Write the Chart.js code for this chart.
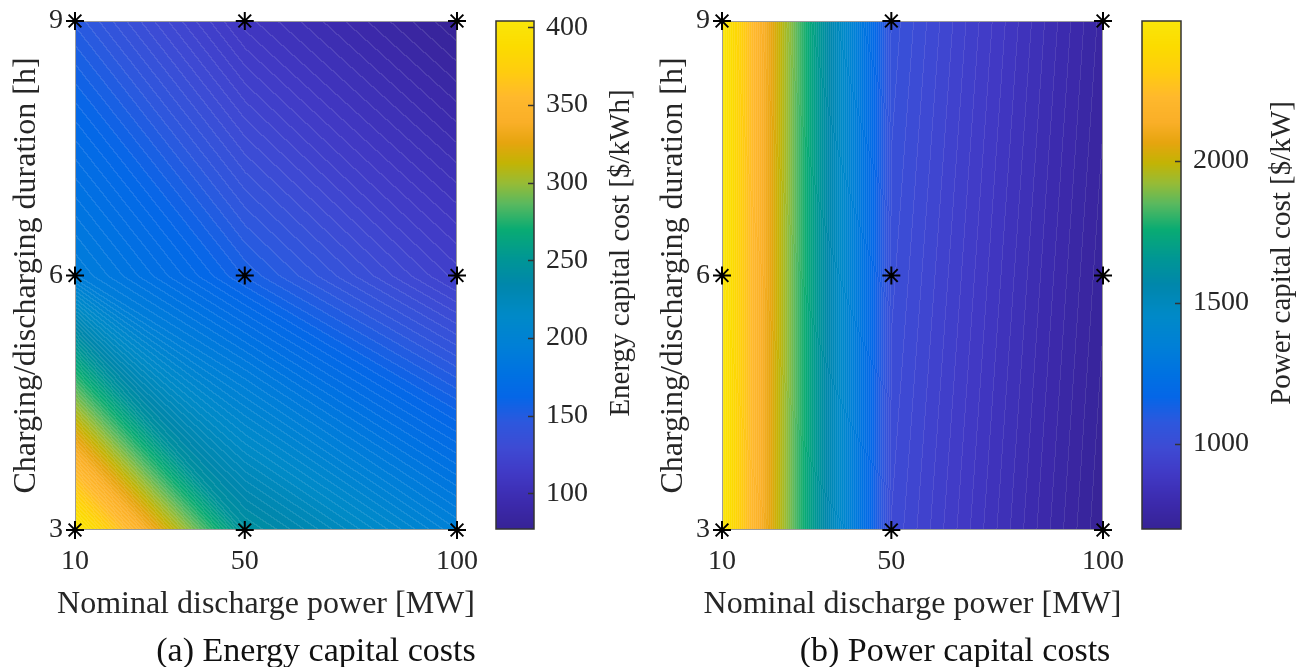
<!DOCTYPE html>
<html>
<head>
<meta charset="utf-8">
<script src="https://cdn.jsdelivr.net/npm/chart.js@4.4.1/dist/chart.umd.min.js"></script>
<style>
  body { margin: 0; background: #fff; }
  #figure { position: relative; width: 1306px; height: 667px; overflow: hidden; }
  canvas { position: absolute; top: 0; }
</style>
</head>
<body>
<div id="figure">
  <canvas id="energyChart" width="486" height="667" style="left:0"></canvas>
  <canvas id="energyBar" width="160" height="667" style="left:486px"></canvas>
  <canvas id="powerChart" width="485" height="667" style="left:647px"></canvas>
  <canvas id="powerBar" width="174" height="667" style="left:1132px"></canvas>
</div>
<script>
// grid of the study: discharge power (MW) x charging/discharging duration (h)
const dischargePower = [10, 50, 100];
const duration = [3, 6, 9];

// one row per duration (3 h, 6 h, 9 h), columns follow dischargePower
const energyCost3h = [404, 245, 195];
const energyCost6h = [192, 155, 118];
const energyCost9h = [148, 108, 77];

const powerCost3h = [2485, 985, 700];
const powerCost6h = [2490, 1010, 722];
const powerCost9h = [2495, 1035, 745];

const axisTicksX = [10, 50, 100];
const axisTicksY = [3, 6, 9];
const energyBarTicks = [100, 150, 200, 250, 300, 350, 400];
const powerBarTicks = [1000, 1500, 2000];

const FONT = "'Liberation Serif', 'Times New Roman', serif";
const TEXT = "#262626";
const CONTOUR_LEVELS = 100;

// parula-like colormap
const parulaStops = [
    [0.00, 55, 35, 150],
    [0.05, 60, 42, 172],
    [0.11, 65, 58, 198],
    [0.16, 62, 75, 212],
    [0.21, 45, 88, 222],
    [0.26, 5, 103, 232],
    [0.31, 0, 115, 225],
    [0.36, 0, 128, 215],
    [0.42, 0, 138, 200],
    [0.48, 0, 135, 172],
    [0.53, 0, 150, 150],
    [0.59, 10, 172, 115],
    [0.64, 90, 185, 95],
    [0.68, 150, 188, 55],
    [0.72, 195, 180, 5],
    [0.76, 230, 165, 15],
    [0.80, 250, 175, 40],
    [0.85, 255, 185, 45],
    [0.90, 255, 205, 15],
    [0.95, 252, 220, 0],
    [1.00, 250, 230, 10],
];

function colormap(t) {
    t = Math.max(0, Math.min(1, t));
    for (let k = 0; k < parulaStops.length - 1; k++) {
        const a = parulaStops[k];
        const b = parulaStops[k + 1];
        if (t <= b[0]) {
            const f = (t - a[0]) / (b[0] - a[0]);
            return [a[1] + (b[1] - a[1]) * f, a[2] + (b[2] - a[2]) * f, a[3] + (b[3] - a[3]) * f];
        }
    }
    const last = parulaStops[parulaStops.length - 1];
    return [last[1], last[2], last[3]];
}

function findCell(values, v) {
    for (let k = 0; k < values.length - 2; k++) {
        if (v <= values[k + 1]) return k;
    }
    return values.length - 2;
}

function gridMin(grid) { return Math.min(...grid.flat()); }
function gridMax(grid) { return Math.max(...grid.flat()); }

// contour cell logic: the area >= c inside one cell is bounded by straight
// segments between the edge crossings (same as a contourf on the grid)
const CORNER_U = [0, 1, 1, 0];
const CORNER_W = [0, 0, 1, 1];
const polyU = new Float64Array(8);
const polyW = new Float64Array(8);

function insideAbove(cv, u, w, c) {
    let n = 0;
    for (let k = 0; k < 4; k++) {
        const k2 = (k + 1) & 3;
        const va = cv[k];
        const vb = cv[k2];
        if (va >= c) {
            polyU[n] = CORNER_U[k];
            polyW[n] = CORNER_W[k];
            n++;
        }
        if ((va >= c) !== (vb >= c)) {
            const t = (c - va) / (vb - va);
            polyU[n] = CORNER_U[k] + (CORNER_U[k2] - CORNER_U[k]) * t;
            polyW[n] = CORNER_W[k] + (CORNER_W[k2] - CORNER_W[k]) * t;
            n++;
        }
    }
    if (n < 3) return false;
    let inside = false;
    for (let a = 0, b = n - 1; a < n; b = a++) {
        if ((polyW[a] > w) !== (polyW[b] > w)) {
            const xCross = polyU[a] + (w - polyW[a]) * (polyU[b] - polyU[a]) / (polyW[b] - polyW[a]);
            if (u < xCross) inside = !inside;
        }
    }
    return inside;
}

function clampUnit(t) {
    return Math.min(1 - 1e-7, Math.max(1e-7, t));
}

function levelAt(grid, x, y, lo, step) {
    const i = findCell(dischargePower, x);
    const j = findCell(duration, y);
    const u = clampUnit((x - dischargePower[i]) / (dischargePower[i + 1] - dischargePower[i]));
    const w = clampUnit((y - duration[j]) / (duration[j + 1] - duration[j]));
    const cv = [grid[j][i], grid[j][i + 1], grid[j + 1][i + 1], grid[j + 1][i]];
    let a = Math.floor((Math.min(...cv) - lo) / step);
    let b = Math.ceil((Math.max(...cv) - lo) / step);
    while (b - a > 1) {
        const m = (a + b) >> 1;
        if (insideAbove(cv, u, w, lo + m * step)) a = m;
        else b = m;
    }
    return Math.max(0, Math.min(CONTOUR_LEVELS - 1, a));
}

const levelColors = [];
for (let L = 0; L < CONTOUR_LEVELS; L++) levelColors.push(colormap((L + 0.5) / CONTOUR_LEVELS));

// filled contour surface, drawn pixel by pixel through the chart scales
const surfacePlugin = {
    id: "surface",
    beforeDatasetsDraw(chart, args, opts) {
        const { ctx, chartArea: area, scales } = chart;
        const left = Math.round(area.left);
        const top = Math.round(area.top);
        const w = Math.round(area.right) - left;
        const h = Math.round(area.bottom) - top;
        const lo = gridMin(opts.grid);
        const hi = gridMax(opts.grid);
        const step = (hi - lo) / CONTOUR_LEVELS;
        const level = new Int32Array(w * h);

        for (let py = 0; py < h; py++) {
            const yv = scales.y.getValueForPixel(top + py + 0.5);
            for (let px = 0; px < w; px++) {
                const xv = scales.x.getValueForPixel(left + px + 0.5);
                level[py * w + px] = levelAt(opts.grid, xv, yv, lo, step);
            }
        }

        const img = ctx.createImageData(w, h);
        for (let py = 0; py < h; py++) {
            for (let px = 0; px < w; px++) {
                const k = py * w + px;
                const L = level[k];
                const c = levelColors[L];
                let edge = false;
                if (px > 0 && level[k - 1] !== L) edge = true;
                if (py > 0 && level[k - w] !== L) edge = true;
                const f = edge ? 0.1 : 0;
                img.data[k * 4] = c[0] + (255 - c[0]) * f;
                img.data[k * 4 + 1] = c[1] + (255 - c[1]) * f;
                img.data[k * 4 + 2] = c[2] + (255 - c[2]) * f;
                img.data[k * 4 + 3] = 255;
            }
        }
        ctx.putImageData(img, left, top);

        ctx.save();
        ctx.strokeStyle = "#9c9c9c";
        ctx.lineWidth = 1;
        ctx.strokeRect(left + 0.5, top + 0.5, w - 1, h - 1);
        ctx.restore();
    },
    afterDraw(chart, args, opts) {
        const { ctx, chartArea: area } = chart;
        ctx.save();
        ctx.textAlign = "center";
        ctx.textBaseline = "alphabetic";
        // x axis title, drawn here so it keeps its natural width
        ctx.font = `32px ${FONT}`;
        ctx.fillStyle = TEXT;
        ctx.fillText(opts.xTitle, (area.left + area.right) / 2, 613);
        ctx.font = `34px ${FONT}`;
        ctx.fillStyle = "#111";
        ctx.fillText(opts.caption, opts.captionX, 661);
        ctx.restore();
    },
};

const colorbarPlugin = {
    id: "colorbar",
    beforeDatasetsDraw(chart, args, opts) {
        const { ctx, chartArea: area, scales } = chart;
        const yScale = scales.y;
        const top = Math.round(area.top);
        const bottom = Math.round(area.bottom);
        for (let py = top; py < bottom; py++) {
            const v = yScale.getValueForPixel(py + 0.5);
            const c = colormap((v - yScale.min) / (yScale.max - yScale.min));
            ctx.fillStyle = `rgb(${c[0] | 0},${c[1] | 0},${c[2] | 0})`;
            ctx.fillRect(area.left, py, area.right - area.left, 1);
        }

        ctx.save();
        ctx.strokeStyle = "#333";
        ctx.lineWidth = 1.5;
        yScale.ticks.forEach((tick) => {
            const py = Math.round(yScale.getPixelForValue(tick.value)) + 0.5;
            ctx.beginPath();
            ctx.moveTo(area.right - 6, py);
            ctx.lineTo(area.right, py);
            ctx.stroke();
        });
        ctx.strokeRect(area.left, top, area.right - area.left, bottom - top);

        ctx.font = `28px ${FONT}`;
        const widest = Math.max(...yScale.ticks.map((t) => ctx.measureText(String(t.value)).width));
        ctx.font = `29px ${FONT}`;
        ctx.fillStyle = TEXT;
        ctx.translate(area.right + 12 + widest + 33, (top + bottom) / 2 - 22);
        ctx.rotate(-Math.PI / 2);
        ctx.textAlign = "center";
        ctx.textBaseline = "middle";
        ctx.fillText(opts.label, 0, 0);
        ctx.restore();
    },
};

function nodePoints() {
    const points = [];
    duration.forEach((y) => {
        dischargePower.forEach((x) => points.push({ x, y }));
    });
    return points;
}

function plainTick(value) {
    return String(value);
}

function noEdgePadding(scale) {
    scale.paddingLeft = 0;
    scale.paddingRight = 0;
    scale.paddingTop = 0;
    scale.paddingBottom = 0;
}

function renderContourChart(canvasId, grid, caption, captionX) {
    new Chart(document.getElementById(canvasId), {
        type: "scatter",
        data: {
            datasets: [
                {
                    data: nodePoints(),
                    pointStyle: "star",
                    pointRadius: 9,
                    borderWidth: 2,
                    borderColor: "#000",
                    backgroundColor: "#000",
                    clip: false,
                },
            ],
        },
        options: {
            responsive: false,
            animation: false,
            devicePixelRatio: 1,
            events: [],
            layout: { padding: { left: 0, top: 21, right: 29, bottom: 0 } },
            plugins: {
                legend: { display: false },
                tooltip: { enabled: false },
                surface: { grid, caption, captionX, xTitle: "Nominal discharge power [MW]" },
            },
            scales: {
                x: {
                    type: "linear",
                    min: 10,
                    max: 100,
                    afterBuildTicks: (scale) => { scale.ticks = axisTicksX.map((value) => ({ value })); },
                    afterFit: (scale) => { scale.height = 137; noEdgePadding(scale); },
                    grid: { display: false, drawTicks: false },
                    border: { display: false },
                    ticks: { font: { family: FONT, size: 28 }, color: TEXT, padding: 15, maxRotation: 0, callback: plainTick },
                },
                y: {
                    type: "linear",
                    min: 3,
                    max: 9,
                    afterBuildTicks: (scale) => { scale.ticks = axisTicksY.map((value) => ({ value })); },
                    afterFit: (scale) => { scale.width = 75; noEdgePadding(scale); },
                    grid: { display: false, drawTicks: false },
                    border: { display: false },
                    ticks: { font: { family: FONT, size: 28 }, color: TEXT, padding: 12, callback: plainTick },
                    title: {
                        display: true,
                        text: "Charging/discharging duration [h]",
                        font: { family: FONT, size: 32 },
                        color: TEXT,
                        padding: { top: 7, bottom: 0 },
                    },
                },
            },
        },
        plugins: [surfacePlugin],
    });
}

function renderColorbar(canvasId, grid, ticks, label, scaleWidth) {
    new Chart(document.getElementById(canvasId), {
        type: "scatter",
        data: { datasets: [] },
        options: {
            responsive: false,
            animation: false,
            devicePixelRatio: 1,
            events: [],
            layout: { padding: { left: 10, top: 21, right: 0, bottom: 138 } },
            plugins: {
                legend: { display: false },
                tooltip: { enabled: false },
                colorbar: { label },
            },
            scales: {
                x: { display: false, min: 0, max: 1 },
                y: {
                    type: "linear",
                    position: "right",
                    min: gridMin(grid),
                    max: gridMax(grid),
                    afterBuildTicks: (scale) => { scale.ticks = ticks.map((value) => ({ value })); },
                    afterFit: (scale) => { scale.width = scaleWidth; noEdgePadding(scale); },
                    grid: { display: false, drawTicks: false },
                    border: { display: false },
                    ticks: { font: { family: FONT, size: 28 }, color: TEXT, padding: 12, callback: plainTick },
                },
            },
        },
        plugins: [colorbarPlugin],
    });
}

const energyGrid = [energyCost3h, energyCost6h, energyCost9h];
const powerGrid = [powerCost3h, powerCost6h, powerCost9h];

renderContourChart("energyChart", energyGrid, "(a) Energy capital costs", 316);
renderColorbar("energyBar", energyGrid, energyBarTicks, "Energy capital cost [$/kWh]", 112);
renderContourChart("powerChart", powerGrid, "(b) Power capital costs", 308);
renderColorbar("powerBar", powerGrid, powerBarTicks, "Power capital cost [$/kW]", 125);
</script>
</body>
</html>
